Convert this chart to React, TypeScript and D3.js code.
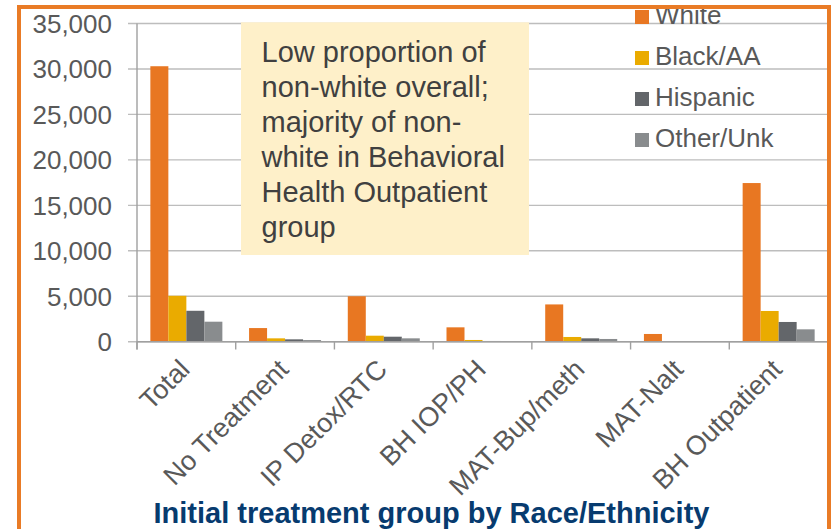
import React, { useEffect } from "react";
import * as d3 from "d3";

const categories = ["Total", "No Treatment", "IP Detox/RTC", "BH IOP/PH", "MAT-Bup/meth", "MAT-Nalt", "BH Outpatient"];
const seriesNames = ["White", "Black/AA", "Hispanic", "Other/Unk"];
const white = [30300, 1500, 5000, 1580, 4100, 850, 17450];
const blackAA = [5050, 370, 660, 190, 520, 60, 3380];
const hispanic = [3400, 260, 550, 80, 370, 20, 2170];
const otherUnk = [2200, 180, 370, 60, 300, 20, 1360];
const seriesColors = ["#E87722", "#EAAB00", "#63666A", "#898C8E"];
const yTicks = [0, 5000, 10000, 15000, 20000, 25000, 30000, 35000];
const noteLines = ["Low proportion of", "non-white overall;", "majority of non-", "white in Behavioral", "Health Outpatient", "group"];
const title = "Initial treatment group by Race/Ethnicity";

const W = 835;
const H = 529;
const FONT = "'Liberation Sans', Arial, Helvetica, sans-serif";

export default function App() {
  useEffect(() => {
    document.body.style.margin = "0";
  }, []);

  const allSeries = [white, blackAA, hispanic, otherUnk];
  const x0 = 137;
  const x1 = 828;
  const yBase = 341.7;
  const yTop = 23.5;

  const x = d3.scaleBand<string>().domain(categories).range([x0, x1]).paddingInner(0.2706).paddingOuter(0.1353);
  const xs = d3.scaleBand<string>().domain(seriesNames).range([0, x.bandwidth()]).padding(0);
  const y = d3.scaleLinear().domain([0, 35000]).range([yBase, yTop]);
  const step = x.step();
  const fmt = d3.format(",");

  return (
    <svg width={W} height={H} style={{ position: "absolute", left: 0, top: 0, display: "block", background: "#fff" }} fontFamily={FONT}>
      <rect x={0} y={0} width={W} height={H} fill="#fff" />
      {/* gridlines */}
      {yTicks.map((t) => (
        <line key={"g" + t} x1={128} x2={827} y1={y(t)} y2={y(t)} stroke="#BDBDBD" strokeWidth={1.4} />
      ))}
      {/* y tick labels */}
      {yTicks.map((t) => (
        <text key={"yl" + t} x={112} y={y(t)} dy="0.36em" textAnchor="end" fontSize={26} fill="#595959">
          {fmt(t)}
        </text>
      ))}
      {/* annotation box */}
      <rect x={241} y={22.3} width={288} height={232.7} fill="#FEF0C9" />
      {noteLines.map((l, i) => (
        <text key={"n" + i} x={261.5} y={61.7 + i * 35} fontSize={29} fill="#404040">
          {l}
        </text>
      ))}
      {/* bars */}
      {categories.map((c, ci) => (
        <g key={c}>
          {seriesNames.map((s, si) => {
            const v = allSeries[si][ci];
            return (
              <rect
                key={s}
                x={(x(c) as number) + (xs(s) as number)}
                y={y(v)}
                width={xs.bandwidth()}
                height={yBase - y(v)}
                fill={seriesColors[si]}
              />
            );
          })}
        </g>
      ))}
      {/* axes */}
      <line x1={x0} x2={x0} y1={yTop} y2={349.5} stroke="#A0A0A0" strokeWidth={1.4} />
      <line x1={x0} x2={x1} y1={yBase} y2={yBase} stroke="#A0A0A0" strokeWidth={1.4} />
      {d3.range(categories.length + 1).map((i) => (
        <line key={"xt" + i} x1={x0 + i * step} x2={x0 + i * step} y1={yBase} y2={349.5} stroke="#A0A0A0" strokeWidth={1.4} />
      ))}
      {/* category labels */}
      {categories.map((c) => {
        const cx = (x(c) as number) + x.bandwidth() / 2 + 5;
        return (
          <text key={"cl" + c} transform={`translate(${cx},371) rotate(-45)`} textAnchor="end" fontSize={27} fill="#595959">
            {c}
          </text>
        );
      })}
      {/* legend */}
      {seriesNames.map((s, i) => (
        <g key={"lg" + s}>
          <rect x={635} y={24 + i * 41 - 14} width={14} height={14} fill={seriesColors[i]} />
          <text x={655} y={24 + i * 41} fontSize={26} fill="#595959">
            {s}
          </text>
        </g>
      ))}
      {/* title */}
      <text x={431.5} y={523} textAnchor="middle" fontSize={29} fontWeight="bold" fill="#073B6F">
        {title}
      </text>
      {/* border */}
      <rect x={0} y={0} width={W} height={5} fill="#fff" />
      <rect x={19} y={7} width={810} height={540} fill="none" stroke="#E97B26" strokeWidth={4} />
    </svg>
  );
}
